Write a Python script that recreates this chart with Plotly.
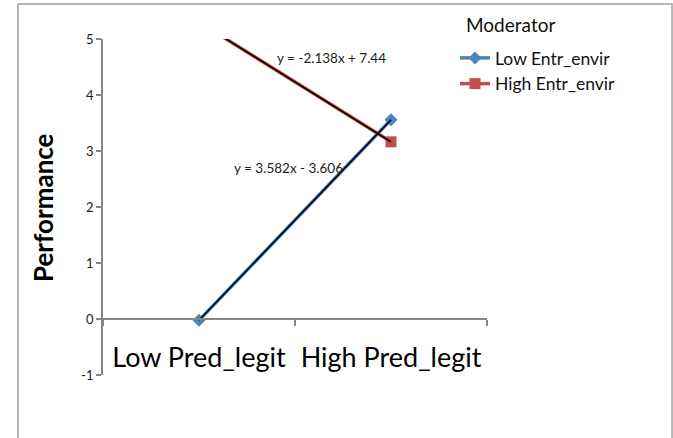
import plotly.graph_objects as go

# Simple-slopes data: performance at low / high predictor legitimacy
categories = ["Low Pred_legit", "High Pred_legit"]
low_envir = [-0.024, 3.558]
high_envir = [5.302, 3.164]
series_names = ["Low Entr_envir", "High Entr_envir"]
trend_labels = ["y = 3.582x - 3.606", "y = -2.138x + 7.44"]
y_ticks = [-1, 0, 1, 2, 3, 4, 5]
y_tick_text = ["-1", "0", "1", "2", "3", "4", "5"]

W, H = 673, 438
L, R, T, B = 103, 186, 39, 63
plot_w = W - L - R
plot_h = H - T - B

BLUE = "#4F81BD"
RED = "#C0504D"
AXIS = "#868686"
FONT = "Lato"

fig = go.Figure()

fig.add_trace(go.Scatter(
    x=categories, y=low_envir, mode="lines+markers", name=series_names[0],
    line=dict(color=BLUE, width=3.5),
    marker=dict(symbol="diamond", size=10, color=BLUE),
))
fig.add_trace(go.Scatter(
    x=categories, y=high_envir, mode="lines+markers", name=series_names[1],
    line=dict(color=RED, width=3.5),
    marker=dict(symbol="square", size=11, color=RED),
))
# linear trendlines drawn over each series
for vals in (low_envir, high_envir):
    fig.add_trace(go.Scatter(
        x=categories, y=vals, mode="lines", showlegend=False,
        line=dict(color="black", width=1.5), hoverinfo="skip",
    ))

def px_x(px):
    return (px - L) / plot_w

def px_y(py):
    return (H - B - py) / plot_h

def label(px, py, text, size, color="#222222", angle=0):
    fig.add_annotation(x=px_x(px), y=px_y(py), xref="paper", yref="paper",
                       xanchor="center", yanchor="middle",
                       text=text, showarrow=False, textangle=angle,
                       font=dict(family=FONT, size=size, color=color))

# trendline equations
label(288, 168, trend_labels[0], 13.5)
label(331, 58, trend_labels[1], 13.5)

# legend heading
label(510, 25, "Moderator", 19, "#111111")

# y axis title
label(43, 208, "<b>Performance</b>", 26, "#000000", -90)

# outer chart border
fig.add_shape(type="rect", xref="paper", yref="paper",
              x0=px_x(18), x1=px_x(672), y0=px_y(445), y1=px_y(4),
              line=dict(color="#A0A0A0", width=1.5), layer="below")

fig.update_layout(
    width=W, height=H,
    margin=dict(l=L, r=R, t=T, b=B),
    paper_bgcolor="white", plot_bgcolor="white",
    showlegend=True,
    legend=dict(x=px_x(455), y=px_y(40), xanchor="left", yanchor="top",
                font=dict(family=FONT, size=17.5, color="#111111"),
                itemwidth=30, tracegroupgap=0, bgcolor="rgba(0,0,0,0)"),
    xaxis=dict(
        type="category", anchor="free", position=1 / 6,
        range=[-0.5, 1.5], showgrid=False, zeroline=False,
        showline=True, linecolor=AXIS, linewidth=1.5,
        ticks="outside", tickson="boundaries", ticklen=6,
        tickcolor=AXIS, tickwidth=1.5, ticklabelstandoff=15,
        tickfont=dict(family=FONT, size=27, color="#000000"),
    ),
    yaxis=dict(
        range=[-1, 5], tickvals=y_ticks, ticktext=y_tick_text,
        showgrid=False, zeroline=False,
        showline=True, linecolor=AXIS, linewidth=1.5,
        ticks="outside", ticklen=5, tickcolor=AXIS, tickwidth=1.5,
        tickfont=dict(family=FONT, size=13, color="#222222"),
    ),
)

fig.write_html("out.html")
